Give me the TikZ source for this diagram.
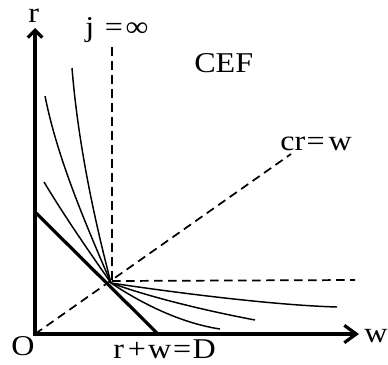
\documentclass[tikz,border=0pt]{standalone}
\usepackage{fontspec}
\setmainfont{Liberation Serif}[FakeStretch=1.12]
\usetikzlibrary{arrows.meta}
\begin{document}
\begin{tikzpicture}[x=0.75pt,y=-0.75pt,
  axis/.style={line width=2.4pt, line join=miter},
  budget/.style={line width=2.4pt},
  guide/.style={line width=1.3pt, dash pattern=on 6.5pt off 4pt},
  icurve/.style={line width=1.1pt},
  lbl/.style={inner sep=0pt, anchor=base west, font=\fontsize{21.5}{24}\selectfont}]
\useasboundingbox (0,0) rectangle (388,364);
% key points
\coordinate (O) at (35,334);
\coordinate (rtip) at (35,28);
\coordinate (wtip) at (359,334);
\coordinate (P) at (111,283);
\coordinate (jtop) at (112,47);
\coordinate (hend) at (355,280);
\coordinate (dend) at (291,154);
\coordinate (Dr) at (35,212);
\coordinate (Dw) at (158,334);
% axes
\draw[axis, {Straight Barb[length=5.5pt,width=11pt]}-{Straight Barb[length=9pt,width=13pt]}] (rtip) -- (O) -- (wtip);
% dashed guides
\draw[guide] (jtop) -- (112,283);
\draw[guide] (112,281) -- (hend);
\draw[guide] (O) -- (dend);
% budget line
\draw[budget] (Dr) -- (Dw);
% upper-left curves
\draw[icurve] (72,68) .. controls (77.6,138) and (92.4,212) .. (P);
\draw[icurve] (45,96) .. controls (57.4,158) and (84,220) .. (P);
\draw[icurve] (44,182) .. controls (63.8,215) and (87.25,249) .. (P);
% lower-right curves
\draw[icurve] (P) .. controls (157,290) and (267,305) .. (337,307);
\draw[icurve] (P) .. controls (152,298) and (210,311.5) .. (255,320);
\draw[icurve] (P) .. controls (147,307) and (185,323.75) .. (220,329);
% labels
\node[lbl, text height=9pt] (rl) at (28,22) {r};
\node[lbl] (jl) at (85,36) {j\hspace{8pt}=\hspace{2pt}∞};
\node[lbl] (cef) at (194,72) {CEF};
\node[lbl] (crw) at (280,150) {cr\hspace{1pt}=\hspace{3pt}w};
\node[lbl] (ol) at (11,355) {O};
\node[lbl] (wl) at (364,342) {w};
\node[lbl, text depth=0pt] (rwd) at (113,358) {r\hspace{3pt}+\hspace{1.5pt}w\hspace{1.5pt}=\hspace{1pt}D};
\end{tikzpicture}
\end{document}
